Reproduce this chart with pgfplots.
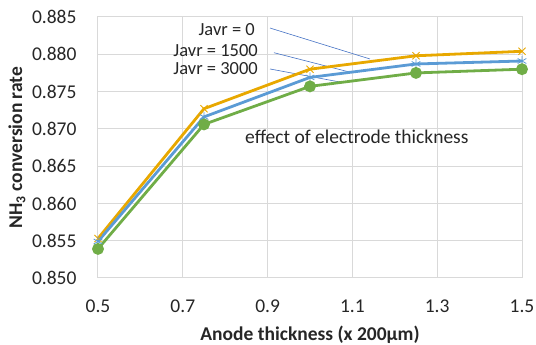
\documentclass[border=0pt]{standalone}
\usepackage{pgfplots}
\pgfplotsset{compat=1.18}
\usepackage{fontspec}
\setmainfont{Carlito}
\definecolor{cOr}{RGB}{232,168,0}
\definecolor{cBl}{RGB}{91,155,213}
\definecolor{cGr}{RGB}{112,173,71}
\definecolor{cGrid}{RGB}{217,217,217}
\definecolor{cLead}{RGB}{68,114,196}
\newcommand{\fs}{\fontsize{19.5}{22}\selectfont}
\newcommand{\fa}{\fontsize{18.5}{20}\selectfont}
\begin{document}
\begin{tikzpicture}[x=1pt,y=1pt]
\path[use as bounding box] (-98,-67) rectangle (438,278);
\begin{axis}[
  at={(0,0)}, anchor=south west,
  scale only axis, width=424pt, height=261pt,
  xmin=0.5, xmax=1.5, ymin=0.850, ymax=0.885,
  xtick={0.5,0.7,0.9,1.1,1.3,1.5},
  ytick={0.850,0.855,0.860,0.865,0.870,0.875,0.880,0.885},
  xticklabels={0.5,0.7,0.9,1.1,1.3,1.5},
  yticklabels={0.850,0.855,0.860,0.865,0.870,0.875,0.880,0.885},
  grid=major, major grid style={cGrid, line width=1pt},
  axis line style={cGrid, line width=1pt},
  tick style={draw=none},
  ticklabel style={font=\fs, text=black!85},
  yticklabel style={xshift=-18pt},
  xticklabel style={yshift=-18pt},
  xlabel={\textbf{Anode thickness (x 200µm)}},
  ylabel={\textbf{NH\textsubscript{3} conversion rate}},
  label style={font=\fs, text=black!85},
  xlabel style={at={(axis description cs:0.5,0)}, anchor=center, yshift=-57pt},
  ylabel style={at={(axis description cs:0,0.5)}, anchor=center, yshift=81pt},
  clip=false,
]
\addplot[cLead, line width=0.6pt, forget plot] coordinates {(0.9057,0.88352) (1.1415,0.87937)};
\addplot[cLead, line width=0.6pt, forget plot] coordinates {(0.9151,0.88021) (1.0896,0.87767)};
\addplot[cLead, line width=0.6pt, forget plot] coordinates {(0.9057,0.87803) (1.0708,0.87628)};
\addplot[cOr, line width=2.8pt, mark=x, mark size=5pt, mark options={line width=0.8pt, solid}] coordinates {
(0.5,0.8553) (0.75,0.8727) (1.0,0.8780) (1.25,0.8798) (1.5,0.8804)};
\addplot[cBl, line width=2.8pt, mark=asterisk, mark size=5pt, mark options={line width=0.8pt, solid}] coordinates {
(0.5,0.8549) (0.75,0.8716) (1.0,0.8769) (1.25,0.8787) (1.5,0.8791)};
\addplot[cGr, line width=2.8pt, mark=*, mark size=4.5pt, mark options={solid}] coordinates {
(0.5,0.8539) (0.75,0.8706) (1.0,0.8757) (1.25,0.8775) (1.5,0.8780)};
\node[anchor=east, font=\fa, text=black!85, inner sep=0pt] at (axis cs:0.8703,0.88326) {Javr = 0};
\node[anchor=east, font=\fa, text=black!85, inner sep=0pt] at (axis cs:0.8774,0.88045) {Javr = 1500};
\node[anchor=east, font=\fa, text=black!85, inner sep=0pt] at (axis cs:0.8774,0.87805) {Javr = 3000};
\node[anchor=west, font=\fs, text=black!85, inner sep=0pt] at (axis cs:0.8467,0.86891) {effect of electrode thickness};
\end{axis}
\end{tikzpicture}
\end{document}
